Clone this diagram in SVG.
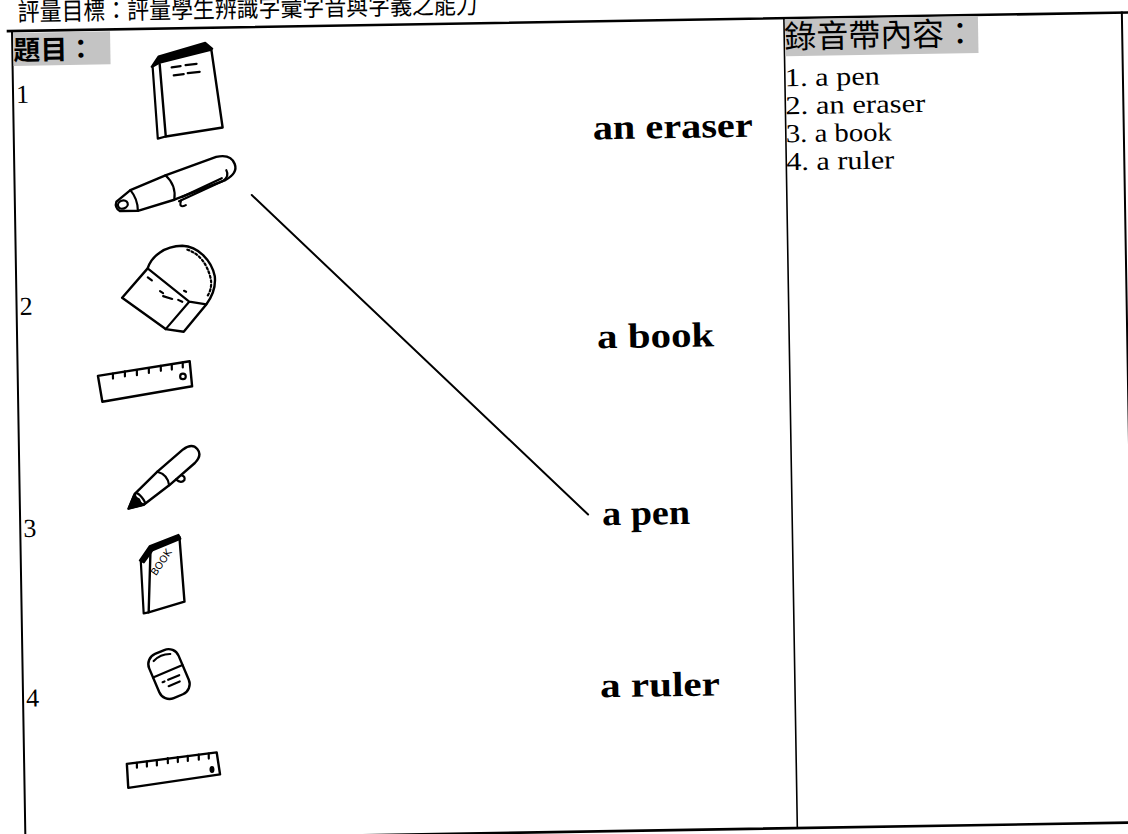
<svg xmlns="http://www.w3.org/2000/svg" width="1128" height="834" viewBox="0 0 1128 834">
<style>
.title{font-family:"Noto Sans CJK TC","Noto Sans CJK SC",sans-serif;font-size:25px;fill:#000}
.hb{font-family:"Noto Sans CJK TC","Noto Sans CJK SC",sans-serif;font-size:27px;font-weight:bold;fill:#000}
.hr{font-family:"Noto Sans CJK TC","Noto Sans CJK SC",sans-serif;font-size:32px;fill:#000}
.l{font-family:"Liberation Serif","Times New Roman",serif;font-size:26px;fill:#000}
.n{font-family:"Liberation Serif","Times New Roman",serif;font-size:26px;fill:#000}
.w{font-family:"Liberation Serif","Times New Roman",serif;font-size:35px;font-weight:bold;fill:#000}
.hand{font-family:"DejaVu Sans",sans-serif;font-size:10px;fill:#000}
.frame{stroke:#000;fill:none;stroke-linecap:square}
.ink{stroke:#000;stroke-width:2.4;fill:#fff;stroke-linejoin:round;stroke-linecap:round}
.ln{stroke:#000;stroke-width:2.2;fill:none;stroke-linejoin:round;stroke-linecap:round}
.hl{fill:#c4c4c4}
</style>
<rect width="1128" height="834" fill="#fff"/>
<g transform="rotate(-0.95 12 31)">
  <g id="title"><text class="title" x="18" y="21" textLength="460" lengthAdjust="spacingAndGlyphs">評量目標：評量學生辨識字彙字音與字義之能力</text></g>
  <g id="table">
    <line class="frame" x1="8" y1="31" x2="1150" y2="31" stroke-width="2.6"/>
    <line class="frame" x1="12" y1="31" x2="12" y2="855" stroke-width="2"/>
    <line class="frame" x1="784" y1="31" x2="784" y2="841" stroke-width="1.6"/>
    <line class="frame" x1="1122" y1="31" x2="1122" y2="855" stroke-width="2"/>
    <line class="frame" x1="12" y1="841" x2="1150" y2="841" stroke-width="2.6"/>
  </g>
  <g id="header-question">
    <rect class="hl" x="13" y="33" width="97" height="33"/>
    <text class="hb" x="13" y="60">題目：</text>
  </g>
  <g id="header-tape">
    <rect class="hl" x="785" y="32" width="193" height="37"/>
    <text class="hr" x="784" y="61">錄音帶內容：</text>
  </g>
  <g id="tape-list">
    <text class="l" x="784" y="99" textLength="95" lengthAdjust="spacingAndGlyphs">1. a pen</text>
    <text class="l" x="784" y="127" textLength="140" lengthAdjust="spacingAndGlyphs">2. an eraser</text>
    <text class="l" x="784" y="155" textLength="106" lengthAdjust="spacingAndGlyphs">3. a book</text>
    <text class="l" x="784" y="183" textLength="108" lengthAdjust="spacingAndGlyphs">4. a ruler</text>
  </g>
  <g id="numbers">
    <text class="n" x="15" y="103">1</text>
    <text class="n" x="15" y="315">2</text>
    <text class="n" x="15" y="537">3</text>
    <text class="n" x="15" y="707">4</text>
  </g>
  <g id="book1" transform="translate(-1,3)">
    <path class="ink" d="M160,62 L212,50 L222,128 L165,136 Z"/>
    <path class="ln" d="M160,62 L153,66 L157,138 L165,136"/>
    <path d="M152,66 L159,56 L206,43 L213,49 L160,61 Z" fill="#000" stroke="#000" stroke-width="2" stroke-linejoin="round"/>
    <path class="ln" d="M172,67 L181,66 M186,65 L197,64 M174,75 L184,74 M188,73 L200,72" stroke-width="2.6"/>
  </g>
  <g id="pen1" transform="translate(-2.6,6)">
    <g transform="translate(115,203) rotate(-19)">
      <path class="ink" d="M3,-5 Q-1,0 3,5 L20,11 L58,13 L112,12 Q127,10 127,0 Q127,-11 112,-13 L58,-13 L20,-11 Z"/>
      <ellipse class="ln" cx="8" cy="0" rx="5" ry="4"/>
      <path class="ln" d="M20,-11 Q24,0 20,11 M58,-13 Q65,0 58,13"/>
      <path class="ln" d="M62,16 L110,12 Q118,10 117,3 M66,13 L110,9"/>
      <path class="ln" d="M64,16 Q59,23 67,22"/>
    </g>
  </g>
  <g id="eraser2" transform="translate(-4.3,2.6)">
    <path class="ink" d="M122,297 L148,268 C152,256 165,246 183,246 C199,247 212,261 215,277 C216,288 213,296 206,305 L183,332 L165,329 Z"/>
    <path class="ln" d="M148,268 L189,302 L165,329 M189,302 L206,305"/>
    <path class="ln" d="M188,250 C200,254 208,265 211,280 C212,287 210,293 207,297" stroke-width="2.6" stroke-dasharray="2 2.5"/>
    <path class="ln" d="M148,277 L152,280 M160,291 L163,293 M163,296 L172,299 M178,300 L182,302 M184,291 L186,292" stroke-width="1.8"/>
  </g>
  <g id="ruler2" transform="translate(-5.8,2.2)">
    <path class="ink" d="M98,375 L190,362 L192,387 L102,401 Z"/>
    <path class="ln" d="M113,373 L113,378 M125,371 L125,376 M137,370 L137,375 M149,368 L149,373 M161,366 L161,371 M172,365 L172,370 M183,363 L183,368"/>
    <circle class="ln" cx="183" cy="377" r="2.8"/>
  </g>
  <g id="pen3" transform="translate(-7.4,2.5)">
    <g transform="translate(128,508) rotate(-40)">
      <path class="ink" d="M0,0 L14,-7 L46,-9 L80,-9 Q91,-8 91,0 Q91,8 80,9 L46,9 L14,7 Z"/>
      <path d="M0,0 L12,-6 L14,0 L12,6 Z" fill="#000" stroke="#000" stroke-width="2" stroke-linejoin="round"/>
      <ellipse class="ln" cx="15" cy="0" rx="2.5" ry="7"/>
      <path class="ln" d="M46,-9 Q52,0 46,9"/>
      <path class="ln" d="M55,9 Q56,16 61,15 Q64,13 62,10"/>
    </g>
  </g>
  <g id="book3" transform="translate(-9,2.5)">
    <path class="ink" d="M151,547 L180,537 L184,602 L148,612 Z"/>
    <path class="ln" d="M151,547 L141,561 L143,613 L148,612"/>
    <path d="M140,560 L150,546 L179,535 L181,539 L153,550 L144,562 Z" fill="#000" stroke="#000" stroke-width="2" stroke-linejoin="round"/>
    <text class="hand" transform="translate(156,576) rotate(-55)">BOOK</text>
  </g>
  <g id="eraser4" transform="translate(-10.7,2.6)">
    <g transform="translate(169,674) rotate(-22)">
      <rect class="ink" x="-16" y="-24" width="32" height="48" rx="11" ry="11"/>
      <path class="ln" d="M-16,-3 L16,-3"/>
      <path class="ln" d="M-9,-18 Q0,-22 9,-18" stroke-width="1.6"/>
      <path class="ln" d="M-9,5 L-7,5 M-3,5 L9,5 M-5,11 L7,11" stroke-width="2"/>
    </g>
  </g>
  <g id="ruler4" transform="translate(-12.3,2.7)">
    <path class="ink" d="M127,763 L217,753 L220,775 L128,787 Z"/>
    <path class="ln" d="M137,762 L137,767 M147,761 L147,766 M157,760 L157,765 M168,758 L168,763 M178,757 L178,762 M188,756 L188,761 M199,755 L199,760 M209,754 L209,759"/>
    <ellipse cx="212" cy="770" rx="2.5" ry="3.5" fill="#000"/>
  </g>
  <g id="word-eraser"><text class="w" x="591" y="149" textLength="160" lengthAdjust="spacingAndGlyphs">an eraser</text></g>
  <g id="word-book"><text class="w" x="592" y="358" textLength="117" lengthAdjust="spacingAndGlyphs">a book</text></g>
  <g id="word-pen"><text class="w" x="594" y="535" textLength="88" lengthAdjust="spacingAndGlyphs">a pen</text></g>
  <g id="word-ruler"><text class="w" x="589" y="707" textLength="120" lengthAdjust="spacingAndGlyphs">a ruler</text></g>
  <g id="connectors">
    <line x1="249" y1="199" x2="580" y2="524" stroke="#000" stroke-width="2" stroke-linecap="round"/>
  </g>
</g>
</svg>
